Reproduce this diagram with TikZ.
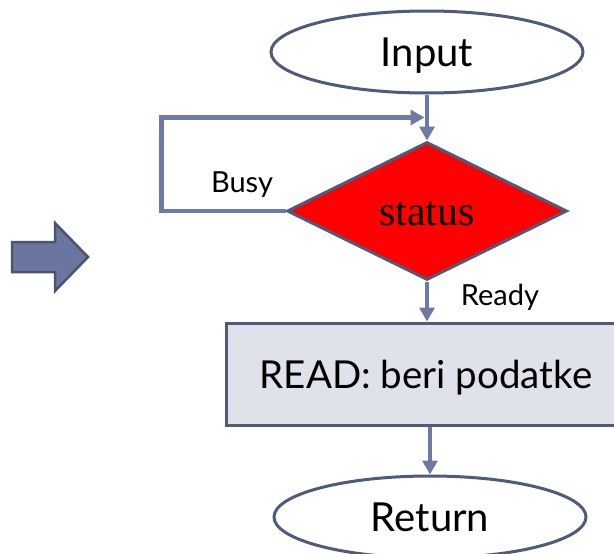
\documentclass[tikz,border=0pt]{standalone}
\usepackage{fontspec}
\setmainfont{Lato}
\newfontfamily\statusfont{Liberation Serif}
\usetikzlibrary{shapes.geometric,arrows.meta,calc}
\definecolor{linec}{RGB}{110,122,163}
\definecolor{edgec}{RGB}{80,90,122}
\definecolor{procfill}{RGB}{223,226,235}
\definecolor{arrowfill}{RGB}{107,118,160}
\definecolor{arrowedge}{RGB}{76,84,114}
\begin{document}
\begin{tikzpicture}[x=1pt,y=-1pt,
  conn/.style={draw=linec, line width=4.5pt, -{Triangle[width=15pt,length=14pt]}},
  term/.style={ellipse, draw=edgec, line width=3pt, fill=white, minimum width=312pt, minimum height=82pt, inner sep=0pt},
  decision/.style={diamond, draw=edgec, line width=3pt, fill=red, minimum width=280pt, minimum height=138pt, inner sep=0pt, aspect=2},
  process/.style={rectangle, draw=edgec, line width=3pt, fill=procfill, minimum width=400pt, minimum height=102pt, inner sep=0pt},
  lbl/.style={font=\fontsize{29}{29}\selectfont, inner sep=0pt}
]
\clip (0,0) rectangle (614,554);
\fill[white] (0,0) rectangle (614,554);
% block arrow
\draw[draw=arrowedge, fill=arrowfill, line width=2.5pt, line join=miter]
  (12,242) -- (55,242) -- (55,223) -- (88,257) -- (55,291) -- (55,272) -- (12,272) -- cycle;
% nodes
\node[term, font=\fontsize{40}{40}\selectfont, text height=29pt, text depth=0pt] (in) at (427,52) {Input};
\node[decision, font=\statusfont\fontsize{42}{42}\selectfont, text height=28pt, text depth=0pt] (st) at (427,211) {status};
\node[process, font=\fontsize{38.5}{38.5}\selectfont, text height=28pt, text depth=0pt] (rd) at (426,374) {READ: beri podatke};
\node[term, font=\fontsize{40}{40}\selectfont, text height=28pt, text depth=0pt] (ret) at (430,517) {Return};
% connectors
\coordinate (j) at ($(in.south)!0.5!(st.north)$);
\draw[conn] (in.south) -- (st.north);
\draw[conn, shorten >=2.5pt] (st.west) -- ++(-124,0) |- (j);
\draw[conn] (st.south) -- (st.south |- rd.north);
\draw[conn] (ret.north |- rd.south) -- (ret.north);
% labels
\node[lbl, anchor=base] (busy) at (242,192) {Busy};
\node[lbl, anchor=base] (ready) at (500,305) {Ready};
\end{tikzpicture}
\end{document}
